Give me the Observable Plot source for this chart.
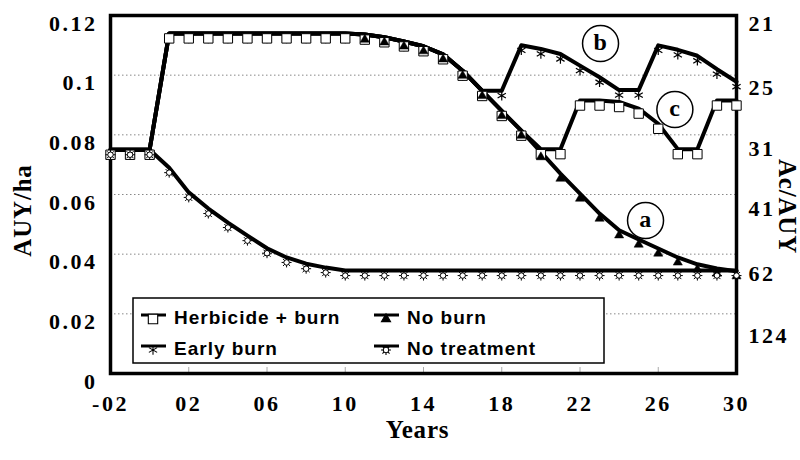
<!DOCTYPE html>
<html><head><meta charset="utf-8">
<script src="https://cdn.jsdelivr.net/npm/d3@7"></script>
<script src="https://cdn.jsdelivr.net/npm/@observablehq/plot@0.6"></script>
<style>
html,body{margin:0;padding:0;background:#fff;}
#chart svg text{letter-spacing:2.5px}
</style></head><body><div id="chart"></div>
<script>
// ---- data ----
const years = [-2,-1,0,1,2,3,4,5,6,7,8,9,10,11,12,13,14,15,16,17,18,19,20,21,22,23,24,25,26,27,28,29,30];
const herbicideBurn = [0.075,0.075,0.075,0.114,0.114,0.114,0.114,0.114,0.114,0.114,0.114,0.114,0.114,
  0.1136,0.1127,0.1113,0.1097,0.107,0.1015,0.0947,0.088,0.0814,0.0752,0.0752,0.0915,0.0915,0.091,0.0888,0.0837,0.0752,0.0752,0.0915,0.0915];
const noBurn = [0.075,0.075,0.075,0.114,0.114,0.114,0.114,0.114,0.114,0.114,0.114,0.114,0.114,
  0.1136,0.1127,0.1113,0.1097,0.107,0.1015,0.0947,0.088,0.0814,0.0742,0.067,0.0603,0.0536,0.048,0.0449,0.0419,0.0389,0.0366,0.0352,0.0343];
const earlyBurn = [0.075,0.075,0.075,0.114,0.114,0.114,0.114,0.114,0.114,0.114,0.114,0.114,0.114,
  0.1136,0.1127,0.1113,0.1097,0.107,0.1015,0.0948,0.0948,0.110,0.1088,0.1071,0.1032,0.0993,0.095,0.095,0.110,0.1085,0.1065,0.102,0.0978];
const noTreatment = [0.075,0.075,0.075,0.069,0.0607,0.0553,0.0506,0.0462,0.042,0.0389,0.0368,0.0355,0.0345,
  0.0345,0.0345,0.0345,0.0345,0.0345,0.0345,0.0345,0.0345,0.0345,0.0345,0.0345,0.0345,0.0345,0.0345,0.0345,0.0345,0.0345,0.0345,0.0345,0.0345];
const seriesNames = ["Herbicide + burn","No burn","Early burn","No treatment"];
const noBurnMarkersFrom = 11;

const xTickValues = [-2,2,6,10,14,18,22,26,30];
const xTickLabels = ["-02","02","06","10","14","18","22","26","30"];
const yTickValues = [0,0.02,0.04,0.06,0.08,0.1,0.12];
const yTickLabels = ["0","0.02","0.04","0.06","0.08","0.1","0.12"];
const gridValues = [0.02,0.04,0.06,0.08,0.1];
const rightTickLabels = ["21","25","31","41","62","124"];
const rightTickAt = [0.1173,0.0958,0.0754,0.0553,0.0335,0.0127];

const annLabels = ["a","b","c"];
const annYear = [25.35,23.05,26.85];
const annValue = [0.0513,0.1106,0.0885];

// ---- tables ----
const seriesValues = [herbicideBurn,noBurn,earlyBurn,noTreatment];
const rows = [];
seriesNames.forEach((s,k)=>years.forEach((yr,i)=>rows.push({series:s, year:yr, value:seriesValues[k][i]})));
const ofSeries = s => rows.filter(d=>d.series===s);
const ann = annLabels.map((t,i)=>({t, x:annYear[i], y:annValue[i]}));
const rightTicks = rightTickLabels.map((t,i)=>({t, y:rightTickAt[i]}));

const sun = {
  draw(ctx, size) {
    const r = Math.sqrt(size/Math.PI), rc = r*0.55;
    ctx.moveTo(rc,0); ctx.arc(0,0,rc,0,2*Math.PI);
    for (let i=0;i<8;i++){const a=i*Math.PI/4; ctx.moveTo(rc*Math.cos(a),rc*Math.sin(a)); ctx.lineTo(r*Math.cos(a),r*Math.sin(a));}
  }
};

const serif = "'Liberation Serif','Times New Roman',serif";
const mk = 5;

const plot = Plot.plot({
  width:800, height:460,
  marginLeft:110, marginRight:64, marginTop:15, marginBottom:87,
  style:{fontFamily:serif, color:"black", background:"white"},
  x:{domain:[-2,30], label:null},
  y:{domain:[0,0.12], label:null},
  marks:[
    Plot.ruleY(gridValues,{stroke:"#888", strokeDasharray:"1.5,2.5", strokeWidth:1}),
    Plot.axisX({ticks:xTickValues, tickSize:-6, stroke:"#aaa", tickFormat:()=>""}),
    Plot.axisX({ticks:xTickValues, tickSize:0, tickPadding:22, tickFormat:d=>xTickLabels[xTickValues.indexOf(d)], fontSize:22, fontWeight:"bold"}),
    Plot.axisY({ticks:yTickValues, tickSize:0, tickPadding:13, dy:8, tickFormat:d=>yTickLabels[yTickValues.indexOf(d)], fontSize:22, fontWeight:"bold"}),
    Plot.frame({stroke:"black", strokeWidth:3.5}),
    Plot.dot(ann,{x:"x", y:"y", r:18, fill:"white", stroke:"black", strokeWidth:1.5}),
    Plot.text(ann,{x:"x", y:"y", text:"t", fontSize:24, fontWeight:"bold", dy:-1}),
    Plot.line(rows,{x:"year", y:"value", z:"series", stroke:"black", strokeWidth:4}),
    Plot.dot(ofSeries("Early burn"),{x:"year", y:"value", symbol:"asterisk", r:4.5, stroke:"black", strokeWidth:1.2, dy:mk}),
    Plot.dot(ofSeries("Herbicide + burn"),{x:"year", y:"value", symbol:"square", r:5.3, fill:"white", stroke:"black", strokeWidth:1, dy:mk}),
    Plot.dot(ofSeries("No burn").filter(d=>d.year>=noBurnMarkersFrom),{x:"year", y:"value", symbol:"triangle", r:3.4, fill:"black", stroke:"black", strokeWidth:0.5, dy:mk}),
    Plot.dot(ofSeries("No treatment"),{x:"year", y:"value", symbol:sun, r:5, fill:"white", stroke:"black", strokeWidth:1, dy:mk}),
    Plot.text(rightTicks,{frameAnchor:"right", y:"y", text:"t", dx:12, textAnchor:"start", fontSize:22, fontWeight:"bold"}),
    Plot.text(["AUY/ha"],{frameAnchor:"left", dx:-88, dy:16, rotate:-90, textAnchor:"middle", fontSize:25, fontWeight:"bold"}),
    Plot.text(["Years"],{frameAnchor:"bottom", dx:-6, dy:64, textAnchor:"middle", fontSize:25, fontWeight:"bold"}),
    Plot.text(["Ac/AUY"],{frameAnchor:"right", dx:50, dy:12, rotate:90, textAnchor:"middle", fontSize:25, fontWeight:"bold"})
  ]
});
document.getElementById("chart").appendChild(plot);

const svg = d3.select(plot);
svg.selectAll("text").each(function(){
  const t = this.textContent;
  if (t==="AUY/ha"||t==="Years"||t==="Ac/AUY"||t==="a"||t==="b"||t==="c") this.style.letterSpacing="0.8px";
});

// ---- legend ----
const lg = svg.append("g").attr("text-anchor","start");
lg.append("rect").attr("x",133).attr("y",298).attr("width",471).attr("height",65)
  .attr("fill","white").attr("stroke","black").attr("stroke-width",1.5);
const legendItems = [
  {name:seriesNames[0], col:0, row:0, sym:d3.symbolSquare, size:88, fill:"white"},
  {name:seriesNames[1], col:1, row:0, sym:d3.symbolTriangle, size:36, fill:"black"},
  {name:seriesNames[2], col:0, row:1, sym:d3.symbolAsterisk, size:64, fill:"none"},
  {name:seriesNames[3], col:1, row:1, sym:sun, size:78, fill:"white"}
];
legendItems.forEach(it=>{
  const x0 = it.col===0 ? 141 : 374, y0 = it.row===0 ? 317 : 348;
  lg.append("line").attr("x1",x0).attr("x2",x0+25).attr("y1",y0-2).attr("y2",y0-2).attr("stroke","black").attr("stroke-width",3);
  lg.append("path").attr("d",d3.symbol(it.sym,it.size)()).attr("transform",`translate(${x0+12},${y0+2})`)
    .attr("fill",it.fill).attr("stroke","black").attr("stroke-width",1.1);
  lg.append("text").attr("x",x0+33).attr("y",y0).attr("dominant-baseline","central").attr("text-anchor","start")
    .attr("font-family","'Liberation Sans',Arial,sans-serif").attr("font-weight","bold").attr("font-size",19)
    .style("letter-spacing","1px").text(it.name);
});
</script></body></html>
